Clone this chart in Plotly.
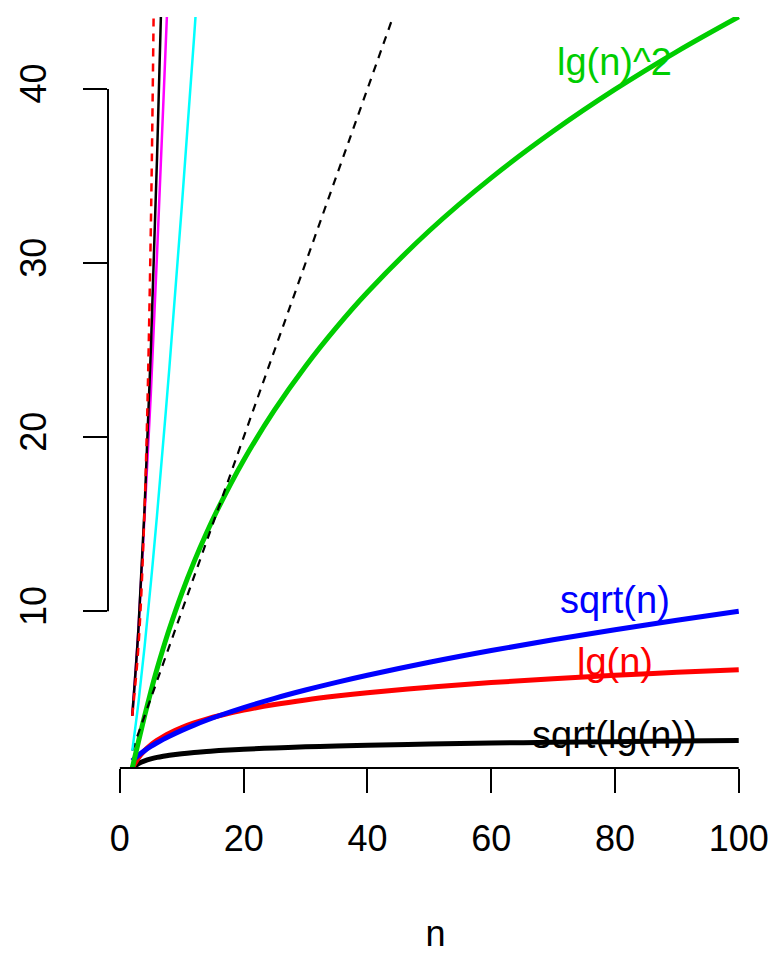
import plotly.graph_objects as go

# sample points of n
n_vals = [2, 3, 4, 5, 6, 7, 8, 10, 12, 14, 16, 20, 25, 30, 35, 40, 50, 60, 70, 80, 90, 100]

sqrt_lg_vals = [1.0, 1.259, 1.414, 1.524, 1.608, 1.675, 1.732, 1.823, 1.893, 1.951, 2.0,
                2.079, 2.155, 2.215, 2.265, 2.307, 2.376, 2.430, 2.476, 2.514, 2.548, 2.578]
lg_vals = [1.0, 1.585, 2.0, 2.322, 2.585, 2.807, 3.0, 3.322, 3.585, 3.807, 4.0,
           4.322, 4.644, 4.907, 5.129, 5.322, 5.644, 5.907, 6.129, 6.322, 6.492, 6.644]
sqrt_vals = [1.414, 1.732, 2.0, 2.236, 2.449, 2.646, 2.828, 3.162, 3.464, 3.742, 4.0,
             4.472, 5.0, 5.477, 5.916, 6.325, 7.071, 7.746, 8.367, 8.944, 9.487, 10.0]
lg2_vals = [1.0, 2.512, 4.0, 5.391, 6.682, 7.879, 9.0, 11.035, 12.852, 14.493, 16.0,
            18.680, 21.567, 24.079, 26.307, 28.324, 31.855, 34.893, 37.565, 39.968, 42.146, 44.143]

lin_n = [2, 100]
lin_vals = [2, 100]

nlg_n = [2, 3, 4, 5, 6, 8, 10, 12, 14]
nlg_vals = [2.0, 4.755, 8.0, 11.61, 15.51, 24.0, 33.22, 43.02, 53.30]

mag_n = [2, 3, 4, 5, 6, 7, 7.6, 8]
mag_vals = [4.0, 9.0, 15.6, 22.5, 30.5, 39.0, 44.2, 48.0]

sq_n = [2, 3, 4, 5, 6, 7]
sq_vals = [4, 9, 16, 25, 36, 49]

exp_n = [2, 3, 4, 5, 6]
exp_vals = [4, 8, 16, 32, 64]

label_texts = ["lg(n)^2", "sqrt(n)", "lg(n)", "sqrt(lg(n))"]
label_x = [80, 80, 80, 80]
label_y = [41.52, 10.65, 7.1, 2.88]
label_colors = ["#00CD00", "#0000FF", "#FF0000", "#000000"]

x_ticks = [0, 20, 40, 60, 80, 100]
y_ticks = [10, 20, 30, 40]

FONT = "Liberation Sans, Arial, Helvetica, sans-serif"

fig = go.Figure()

def add(x, y, color, width, dash="solid", shape="spline"):
    fig.add_trace(go.Scatter(x=x, y=y, mode="lines",
                             line=dict(color=color, width=width, dash=dash, shape=shape),
                             showlegend=False, hoverinfo="skip"))

add(n_vals, sqrt_lg_vals, "#000000", 5)
add(n_vals, lg_vals, "#FF0000", 5)
add(n_vals, sqrt_vals, "#0000FF", 5)
add(n_vals, lg2_vals, "#00CD00", 5)
add(lin_n, lin_vals, "#000000", 2.2, dash="8px,7px", shape="linear")
add(nlg_n, nlg_vals, "#00FFFF", 2.5)
add(mag_n, mag_vals, "#FF00FF", 2.5)
add(sq_n, sq_vals, "#000000", 2.5)
add(exp_n, exp_vals, "#FF0000", 2.5, dash="8px,7px")

for t, x, y, c in zip(label_texts, label_x, label_y, label_colors):
    fig.add_annotation(x=x, y=y, text=t, showarrow=False, xanchor="center", yanchor="middle",
                       font=dict(family=FONT, size=38, color=c))

# axis lines spanning first to last tick only (R style)
fig.add_shape(type="line", xref="x", yref="paper", x0=x_ticks[0], x1=x_ticks[-1], y0=0, y1=0,
              line=dict(color="black", width=2))
fig.add_shape(type="line", xref="paper", yref="y", x0=0, x1=0, y0=y_ticks[0], y1=y_ticks[-1],
              line=dict(color="black", width=2))

fig.update_layout(
    width=768, height=946,
    margin=dict(l=100, r=13, t=9, b=186, autoexpand=False),
    paper_bgcolor="white", plot_bgcolor="white",
    font=dict(family=FONT, color="black"),
    xaxis=dict(range=[-1.92, 103.92], tickvals=x_ticks, ticks="outside", ticklen=24,
               tickwidth=2, tickcolor="black", showgrid=False, zeroline=False, showline=False,
               automargin=False,
               tickfont=dict(size=36, family=FONT), ticklabelstandoff=15,
               title=dict(text="n", font=dict(size=36, family=FONT), standoff=72)),
    yaxis=dict(range=[1, 44.13], tickvals=y_ticks, ticks="outside", ticklen=24,
               tickwidth=2, tickcolor="black", showgrid=False, zeroline=False, showline=False,
               automargin=False,
               tickfont=dict(size=36, family=FONT), tickangle=-90, ticklabelstandoff=23),
)

fig.write_html("out.html")
